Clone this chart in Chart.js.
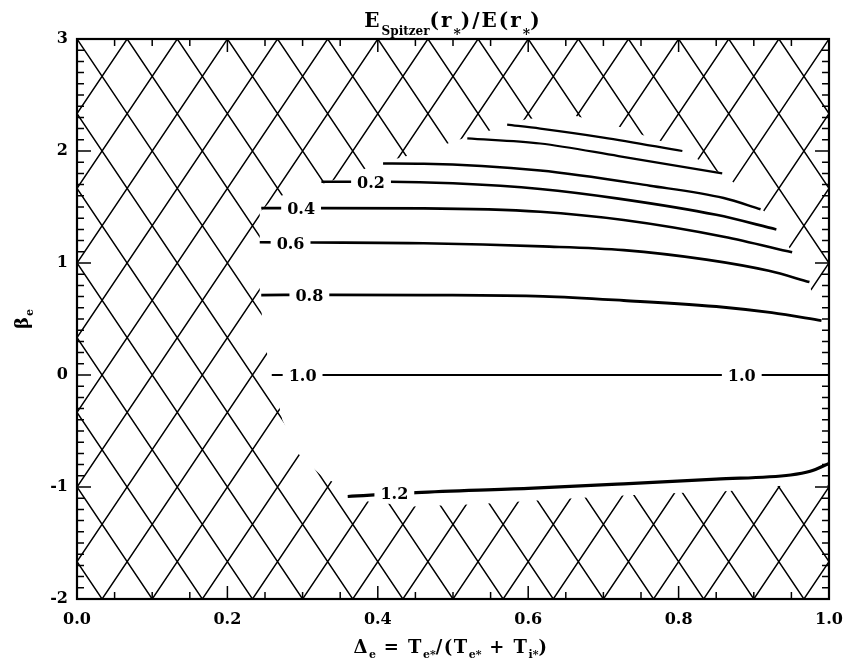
<!DOCTYPE html>
<html>
<head>
<meta charset="utf-8">
<title>E_Spitzer(r*)/E(r*)</title>
<script src="https://cdn.jsdelivr.net/npm/chart.js@4.4.1/dist/chart.umd.min.js"></script>
<style>
  html, body { margin: 0; padding: 0; background: #fff; }
  #wrap { position: relative; width: 848px; height: 661px; }
</style>
</head>
<body>
<div id="wrap"><canvas id="chart"></canvas></div>
<script>
// axes
const xRange = [0, 1];
const yRange = [-2, 3];
const xTickStep = 0.2;
const yTickStep = 1;
const xMinorStep = 0.05;
const yMinorStep = 0.1;

// contour lines, (Delta_e, beta_e)
const top1X = [0.572, 0.616, 0.700, 0.805];
const top1Y = [2.235, 2.200, 2.120, 2.000];
const top2X = [0.519, 0.616, 0.720, 0.858];
const top2Y = [2.112, 2.067, 1.955, 1.800];
const top3X = [0.407, 0.461, 0.616, 0.762, 0.860, 0.909];
const top3Y = [1.888, 1.886, 1.826, 1.690, 1.580, 1.480];
const c02X = [0.325, 0.416, 0.500, 0.616, 0.720, 0.850, 0.930];
const c02Y = [1.726, 1.726, 1.712, 1.661, 1.575, 1.430, 1.300];
const c04X = [0.245, 0.325, 0.461, 0.616, 0.727, 0.860, 0.951];
const c04Y = [1.490, 1.490, 1.488, 1.458, 1.384, 1.235, 1.096];
const c06X = [0.243, 0.312, 0.461, 0.619, 0.727, 0.837, 0.920, 0.974];
const c06Y = [1.185, 1.183, 1.176, 1.148, 1.115, 1.030, 0.930, 0.830];
const c08X = [0.245, 0.339, 0.461, 0.620, 0.727, 0.860, 0.924, 0.990];
const c08Y = [0.714, 0.716, 0.714, 0.702, 0.665, 0.605, 0.556, 0.485];
const c10X = [0.259, 0.600, 1.000];
const c10Y = [0.000, 0.000, 0.000];
const c12X = [0.360, 0.451, 0.600, 0.727, 0.850, 0.949, 0.975, 1.000];
const c12Y = [-1.085, -1.050, -1.012, -0.972, -0.930, -0.893, -0.860, -0.790];

// contour labels
const labelText = ['0.2', '0.4', '0.6', '0.8', '1.0', '1.0', '1.2'];
const labelX = [0.391, 0.298, 0.284, 0.309, 0.300, 0.884, 0.422];
const labelY = [1.726, 1.490, 1.183, 0.716, 0.000, 0.000, -1.050];

// region left without hatching (outline, Delta_e / beta_e)
const openX = [0.243, 0.262, 0.300, 0.326, 0.345, 0.379, 0.405, 0.433, 0.488, 0.515, 0.545, 0.598,
  0.662, 0.722, 0.744, 0.778, 0.832, 0.843, 0.874, 0.914, 0.948, 0.977, 1.000,
  1.000, 0.931, 0.868, 0.790, 0.700, 0.612, 0.530, 0.447, 0.387, 0.360, 0.345, 0.325, 0.294,
  0.273, 0.253, 0.246, 0.243];
const openY = [1.450, 1.580, 1.660, 1.705, 1.750, 1.830, 1.900, 1.945, 2.055, 2.115, 2.175, 2.285,
  2.315, 2.215, 2.160, 2.085, 1.905, 1.855, 1.715, 1.460, 1.130, 0.750, 0.450,
  -0.985, -0.990, -1.035, -1.055, -1.085, -1.120, -1.155, -1.175, -1.130, -1.100, -0.970, -0.900, -0.700,
  -0.400, 0.180, 0.520, 0.760];

// hatch pattern: lines of slope +/-10 through (k/15, 3)
const hatchSlope = 10;
const hatchStep = 2 / 3;
const hatchBase = 3;

const serif = '"DejaVu Serif", "Liberation Serif", serif';
const pts = (xs, ys) => xs.map((v, i) => ({ x: v, y: ys[i] }));

function line(xs, ys, w) {
  return {
    data: pts(xs, ys),
    borderColor: '#000',
    borderWidth: w,
    pointRadius: 0,
    fill: false,
    cubicInterpolationMode: 'monotone',
    borderCapStyle: 'butt'
  };
}

const datasets = [
  line(top1X, top1Y, 2.2),
  line(top2X, top2Y, 2.2),
  line(top3X, top3Y, 2.5),
  line(c02X, c02Y, 2.6),
  line(c04X, c04Y, 2.6),
  line(c06X, c06Y, 2.6),
  line(c08X, c08Y, 2.8),
  line(c10X, c10Y, 2),
  line(c12X, c12Y, 3.2)
];

// text with subscripts: parts are [text, size, dy]; only full-size parts get letter spacing
function drawRich(ctx, parts, cx, by, spacing) {
  const sp = p => (p[1] >= 16 ? spacing : 0) + 'px';
  let w = 0;
  parts.forEach(p => {
    ctx.font = 'bold ' + p[1] + 'px ' + serif;
    ctx.letterSpacing = sp(p);
    w += ctx.measureText(p[0]).width;
  });
  let x = cx - w / 2;
  ctx.textAlign = 'left';
  ctx.textBaseline = 'alphabetic';
  parts.forEach(p => {
    ctx.font = 'bold ' + p[1] + 'px ' + serif;
    ctx.letterSpacing = sp(p);
    ctx.fillText(p[0], x, by + p[2]);
    x += ctx.measureText(p[0]).width;
  });
  ctx.letterSpacing = '0px';
}

const hatchPlugin = {
  id: 'hatch',
  beforeDatasetsDraw(chart) {
    const { ctx, chartArea: a, scales: { x, y } } = chart;
    ctx.save();
    ctx.beginPath();
    ctx.rect(a.left, a.top, a.width, a.height);
    openX.forEach((v, i) => {
      const px = x.getPixelForValue(v), py = y.getPixelForValue(openY[i]);
      if (i === 0) ctx.moveTo(px, py); else ctx.lineTo(px, py);
    });
    ctx.closePath();
    ctx.clip('evenodd');
    ctx.beginPath();
    for (let k = -40; k <= 40; k++) {
      const c = hatchBase + k * hatchStep;
      ctx.moveTo(x.getPixelForValue(x.min), y.getPixelForValue(c + hatchSlope * x.min));
      ctx.lineTo(x.getPixelForValue(x.max), y.getPixelForValue(c + hatchSlope * x.max));
      ctx.moveTo(x.getPixelForValue(x.min), y.getPixelForValue(c - hatchSlope * x.min));
      ctx.lineTo(x.getPixelForValue(x.max), y.getPixelForValue(c - hatchSlope * x.max));
    }
    ctx.lineWidth = 1.5;
    ctx.strokeStyle = '#000';
    ctx.stroke();
    ctx.restore();
  }
};

const labelPlugin = {
  id: 'contourLabels',
  afterDatasetsDraw(chart) {
    const { ctx, scales: { x, y } } = chart;
    ctx.save();
    ctx.font = 'bold 16px ' + serif;
    ctx.textAlign = 'center';
    ctx.textBaseline = 'alphabetic';
    labelText.forEach((t, i) => {
      const px = x.getPixelForValue(labelX[i]), py = y.getPixelForValue(labelY[i]);
      const w = ctx.measureText(t).width;
      ctx.fillStyle = '#fff';
      ctx.fillRect(px - w / 2 - 6, py - 6, w + 12, 12);
      ctx.fillStyle = '#000';
      ctx.fillText(t, px, py + 6);
    });
    ctx.restore();
  }
};

function steps(scale, step) {
  const n = Math.round((scale.max - scale.min) / step);
  return Array.from({ length: n + 1 }, (_, i) => scale.min + i * step);
}

const framePlugin = {
  id: 'frame',
  afterDraw(chart) {
    const { ctx, chartArea: a, scales: { x, y } } = chart;
    ctx.save();
    ctx.strokeStyle = '#000';
    ctx.lineWidth = 1.5;
    ctx.beginPath();
    const xt = (vals, len) => vals.forEach(v => {
      const px = x.getPixelForValue(v);
      ctx.moveTo(px, a.bottom); ctx.lineTo(px, a.bottom - len);
      ctx.moveTo(px, a.top); ctx.lineTo(px, a.top + len);
    });
    const yt = (vals, len) => vals.forEach(v => {
      const py = y.getPixelForValue(v);
      ctx.moveTo(a.left, py); ctx.lineTo(a.left + len, py);
      ctx.moveTo(a.right, py); ctx.lineTo(a.right - len, py);
    });
    xt(steps(x, xMinorStep), 7);
    xt(x.ticks.map(t => t.value), 13);
    yt(steps(y, yMinorStep), 7);
    yt(y.ticks.map(t => t.value), 14);
    ctx.stroke();
    ctx.lineWidth = 2.2;
    ctx.strokeRect(a.left, a.top, a.width, a.height);

    ctx.fillStyle = '#000';
    const cx = (a.left + a.right) / 2;
    drawRich(ctx, [['E', 20, 0], ['Spitzer', 12, 8], ['(r', 20, 0], ['*', 14, 12],
      [')/E(r', 20, 0], ['*', 14, 12], [')', 20, 0]], cx, 27, 2);
    drawRich(ctx, [['\u0394', 18, 0], ['e', 11, 5], [' = ', 18, 0], ['T', 18, 0], ['e*', 11, 5],
      ['/(T', 18, 0], ['e*', 11, 5], [' + ', 18, 0], ['T', 18, 0], ['i*', 11, 5], [')', 18, 0]],
      cx - 2, 653, 1.5);
    ctx.translate(28, (a.top + a.bottom) / 2);
    ctx.rotate(-Math.PI / 2);
    drawRich(ctx, [['\u03b2', 18, 0], ['e', 11, 5]], 0, 0, 1);
    ctx.restore();
  }
};

const tickFont = { family: serif, weight: 'bold', size: 16 };

new Chart(document.getElementById('chart'), {
  type: 'line',
  data: { datasets },
  options: {
    responsive: true,
    maintainAspectRatio: false,
    animation: false,
    layout: { padding: { top: 39, right: 19, left: 0, bottom: 0 } },
    plugins: { legend: { display: false }, tooltip: { enabled: false }, title: { display: false } },
    scales: {
      x: {
        type: 'linear', min: xRange[0], max: xRange[1],
        grid: { display: false, drawTicks: false },
        border: { display: false },
        ticks: { stepSize: xTickStep, autoSkip: false, maxRotation: 0, padding: 5, color: '#000',
          font: { family: serif, weight: 'bold', size: 16, lineHeight: 2 },
          callback: v => v.toFixed(1) },
        afterFit: s => { s.height = 62; }
      },
      y: {
        type: 'linear', min: yRange[0], max: yRange[1],
        grid: { display: false, drawTicks: false },
        border: { display: false },
        ticks: { stepSize: yTickStep, padding: 9, color: '#000', font: tickFont },
        afterFit: s => { s.width = 77; }
      }
    }
  },
  plugins: [hatchPlugin, labelPlugin, framePlugin]
});
</script>
</body>
</html>
